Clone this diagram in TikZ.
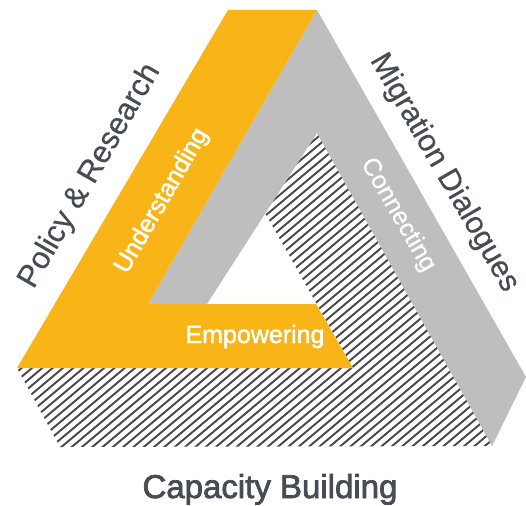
\documentclass[tikz,border=0pt]{standalone}
\usepackage{fontspec}
\setmainfont{Liberation Sans}
\newfontfamily\medfont[FakeBold=1.8]{Liberation Sans}
\newfontfamily\capfont[FakeBold=2.2]{Liberation Sans}
\newfontfamily\semifont[FakeBold=0.5]{Liberation Sans}
\definecolor{orng}{HTML}{F9B418}
\definecolor{grayband}{HTML}{BEBEBE}
\definecolor{txt}{HTML}{474B53}
\definecolor{hatch}{HTML}{474747}
\tikzset{
  sidelabel/.style={text=txt, inner sep=0pt, font=\semifont\fontsize{31}{31}\selectfont},
  bandlabel/.style={text=white, inner sep=0pt, font=\medfont\fontsize{25}{25}\selectfont},
  hatchline/.style={draw=hatch, line width=1.9pt},
}
\begin{document}
\begin{tikzpicture}[x=1pt,y=-1pt]
\useasboundingbox (0,0) rectangle (526,505);
% hatched band (capacity building)
\begin{scope}
\clip (317,125) -- (493,446) -- (60,447) -- (17,368) -- (353,368) -- (265,213) -- cycle;
\foreach \i in {0,...,60} \draw[hatchline] ({-100+\i*10.3},470) -- ++(420,-352);
\end{scope}
% gray band (migration dialogues)
\fill[grayband] (317,10) -- (526,377) -- (492,446) -- (317,133) -- (207,304) -- (148,304) -- cycle;
% orange band (policy & research)
\fill[orng] (228,10) -- (317,10) -- (148,304) -- (316,304) -- (353,368) -- (17,368) -- cycle;
% labels
\node[sidelabel, rotate=60] (policy) at (90,176) {Policy \& Research};
\node[sidelabel, rotate=-60, font=\semifont\fontsize{30.5}{30.5}\selectfont] (migration) at (444,173) {Migration Dialogues};
\node[text=txt, inner sep=0pt, anchor=base, font=\capfont\fontsize{33}{33}\selectfont] (capacity) at (270,498) {Capacity Building};
\node[bandlabel, rotate=60] (understanding) at (162,201) {Understanding};
\node[bandlabel, rotate=-60, font=\semifont\fontsize{25}{25}\selectfont] (connecting) at (398,215) {Connecting};
\node[bandlabel, anchor=base] (empowering) at (255,343) {Empowering};
\end{tikzpicture}
\end{document}
